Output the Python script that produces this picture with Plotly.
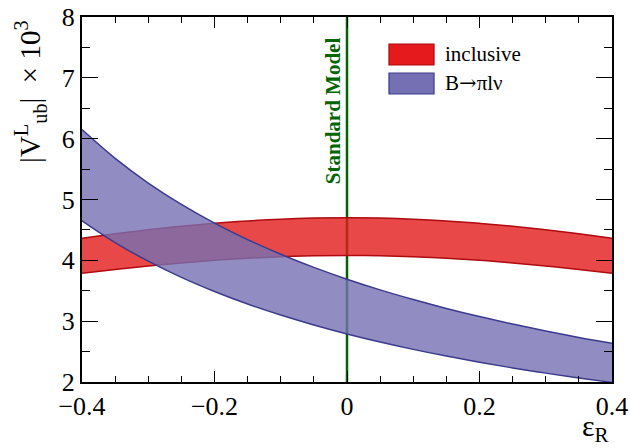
import plotly.graph_objects as go

# epsilon_R sampling points
eps_r = [-0.4, -0.35, -0.3, -0.25, -0.2, -0.15, -0.1, -0.05, 0.0,
         0.05, 0.1, 0.15, 0.2, 0.25, 0.3, 0.35, 0.4]

# inclusive |V_ub^L| x 10^3 band (upper / lower edges)
incl_hi = [4.364, 4.436, 4.502, 4.560, 4.609, 4.648, 4.677, 4.694, 4.700,
           4.694, 4.677, 4.648, 4.609, 4.560, 4.502, 4.436, 4.364]
incl_lo = [3.788, 3.851, 3.908, 3.958, 4.001, 4.035, 4.060, 4.075, 4.080,
           4.075, 4.060, 4.035, 4.001, 3.958, 3.908, 3.851, 3.788]

# B -> pi l nu |V_ub^L| x 10^3 band (upper / lower edges)
excl_hi = [6.150, 5.677, 5.271, 4.920, 4.613, 4.341, 4.100, 3.884, 3.690,
           3.514, 3.355, 3.209, 3.075, 2.952, 2.838, 2.733, 2.636]
excl_lo = [4.650, 4.292, 3.986, 3.720, 3.488, 3.282, 3.100, 2.937, 2.790,
           2.657, 2.536, 2.426, 2.325, 2.232, 2.146, 2.067, 1.993]

x_ticks = [-0.4, -0.2, 0.0, 0.2, 0.4]
x_ticktext = ["\u22120.4", "\u22120.2", "0", "0.2", "0.4"]
y_ticks = [2, 3, 4, 5, 6, 7, 8]

legend_labels = ["inclusive",
                 "B<span style=\"font-family:'DejaVu Serif'\">\u2192</span>\u03c0l\u03bd"]

RED_FILL = "rgba(228,26,28,0.8)"
RED_LINE = "rgb(175,10,15)"
BLUE_FILL = "rgba(117,112,179,0.8)"
BLUE_LINE = "rgb(60,58,140)"
SERIF = "Liberation Serif"

fig = go.Figure()

fig.add_trace(go.Scatter(x=eps_r, y=incl_lo, mode="lines",
                         line=dict(color=RED_LINE, width=1.5, shape="spline"),
                         showlegend=False, hoverinfo="skip"))
fig.add_trace(go.Scatter(x=eps_r, y=incl_hi, mode="lines", fill="tonexty",
                         fillcolor=RED_FILL,
                         line=dict(color=RED_LINE, width=1.5, shape="spline"),
                         showlegend=False, hoverinfo="skip"))
fig.add_trace(go.Scatter(x=eps_r, y=excl_lo, mode="lines",
                         line=dict(color=BLUE_LINE, width=1.5, shape="spline"),
                         showlegend=False, hoverinfo="skip"))
fig.add_trace(go.Scatter(x=eps_r, y=excl_hi, mode="lines", fill="tonexty",
                         fillcolor=BLUE_FILL,
                         line=dict(color=BLUE_LINE, width=1.5, shape="spline"),
                         showlegend=False, hoverinfo="skip"))

# Standard Model line at epsilon_R = 0
fig.add_shape(type="line", xref="x", yref="paper", x0=0, x1=0, y0=0, y1=1,
              line=dict(color="rgb(0,100,0)", width=2.5), layer="below")

# hand-drawn legend boxes
for (y0, y1, fc, lc) in [(0.8685, 0.9260, "rgb(228,26,28)", RED_LINE),
                         (0.7890, 0.8466, "rgb(117,112,179)", BLUE_LINE)]:
    fig.add_shape(type="rect", xref="paper", yref="paper",
                  x0=0.5792, x1=0.6642, y0=y0, y1=y1,
                  fillcolor=fc, line=dict(color=lc, width=1.2))
for text, yc in zip(legend_labels, [0.8986, 0.8192]):
    fig.add_annotation(text=text, xref="paper", yref="paper", x=0.681, y=yc,
                       xanchor="left", yanchor="middle", showarrow=False,
                       font=dict(family=SERIF, size=21, color="black"))

fig.add_annotation(text="<b>Standard Model</b>", xref="paper", yref="paper",
                   x=0.4736, y=0.742, textangle=-90, showarrow=False,
                   xanchor="center", yanchor="middle",
                   font=dict(family=SERIF, size=21, color="rgb(0,100,0)"))

fig.add_annotation(text="|V<sup>L</sup><sub>ub</sub>|  \u00d7 10<sup>3</sup>",
                   xref="paper", yref="paper", x=-0.098, y=0.795,
                   textangle=-90, showarrow=False,
                   xanchor="center", yanchor="middle",
                   font=dict(family=SERIF, size=29, color="black"))

fig.add_annotation(text="\u03b5<sub>R</sub>", xref="paper", yref="paper",
                   x=0.968, y=-0.126, showarrow=False,
                   xanchor="center", yanchor="middle",
                   font=dict(family=SERIF, size=30, color="black"))

axis_common = dict(showgrid=False, zeroline=False, showline=True,
                   linecolor="black", linewidth=2, mirror="allticks",
                   ticks="inside", tickcolor="black", tickwidth=1,
                   automargin=False,
                   tickfont=dict(family=SERIF, size=26, color="black"))

fig.update_xaxes(range=[-0.4, 0.4], tickvals=x_ticks, ticktext=x_ticktext,
                 ticklen=11,
                 minor=dict(dtick=0.05, ticklen=6, ticks="inside",
                            tickcolor="black", tickwidth=1, showgrid=False),
                 **axis_common)
fig.update_yaxes(range=[2, 8], tickvals=y_ticks, ticklen=16,
                 minor=dict(dtick=0.5, ticklen=8, ticks="inside",
                            tickcolor="black", tickwidth=1, showgrid=False),
                 **axis_common)

fig.update_layout(width=630, height=448,
                  margin=dict(l=82, r=18, t=17, b=66),
                  plot_bgcolor="white", paper_bgcolor="white",
                  showlegend=False)

fig.write_html("out.html")
